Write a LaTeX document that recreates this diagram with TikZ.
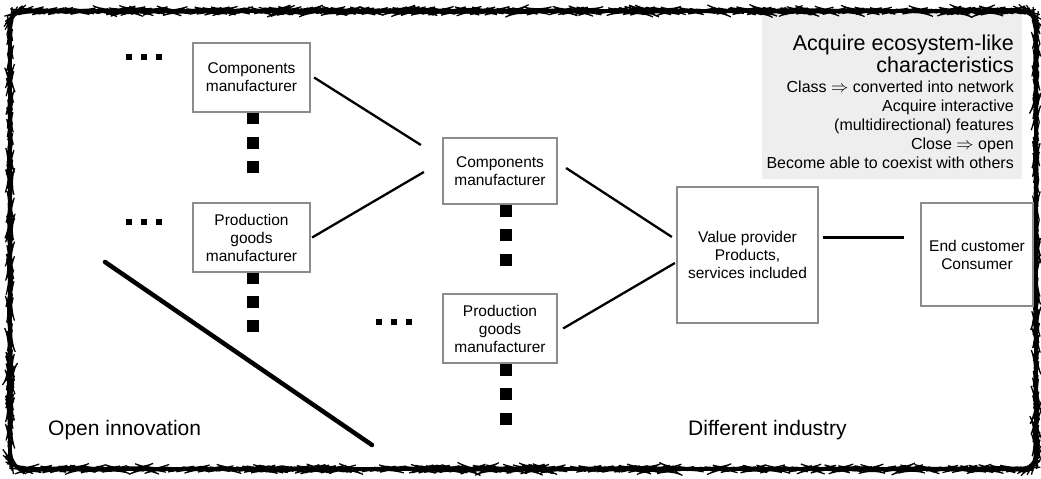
\documentclass[tikz,border=0pt]{standalone}
\usepackage{fontspec}
\setmainfont{Liberation Sans}
\usetikzlibrary{decorations.pathmorphing}
\definecolor{boxgray}{HTML}{8C8C8C}
\definecolor{panelgray}{HTML}{EEEEEE}
\begin{document}
\begin{tikzpicture}[x=1pt,y=-1pt,
 box/.style={draw=boxgray, line width=2.2pt, fill=white, align=center, font=\fontsize{15.5}{18}\selectfont, inner sep=0pt},
 sq/.style={fill=black, minimum size=12pt, inner sep=0pt},
 dotsq/.style={fill=black, minimum size=5.5pt, inner sep=0pt},
 link/.style={line width=2.3pt},
 bigtxt/.style={font=\fontsize{21}{24}\selectfont, inner sep=0pt},
 paneltxt/.style={font=\fontsize{16}{19}\selectfont, inner sep=0pt, anchor=base east},
 paneltitle/.style={font=\fontsize{21.5}{24}\selectfont, inner sep=0pt, anchor=base east},
 rough/.style={line width=1.2pt, decorate, decoration={random steps, segment length=2pt, amplitude=0.45pt}}
]
\useasboundingbox (0,0) rectangle (1041,479);
% panel
\fill[panelgray] (762,10) rectangle (1022,179);
\node[paneltitle] (g1) at (1014,50) {Acquire ecosystem-like};
\node[paneltitle] (g2) at (1014,72) {characteristics};
\node[paneltxt] (g3) at (1014,92) {Class $\Rightarrow$ converted into network};
\node[paneltxt] (g4) at (1014,111) {Acquire interactive};
\node[paneltxt] (g5) at (1014,130) {(multidirectional) features};
\node[paneltxt] (g6) at (1014,149) {Close $\Rightarrow$ open};
\node[paneltxt] (g7) at (1014,168) {Become able to coexist with others};
% frame
\draw[line width=3.6pt, rounded corners=14pt] (10,11) rectangle (1036,469);
\draw[rough, rounded corners=14pt] (10,11) rectangle (1036,469);
% diagonal
\coordinate (d1) at (105,262);
\coordinate (d2) at (372,445);
\draw[line width=4.5pt, line cap=round] (d1) -- (d2);
\draw[rough] (d1) -- (d2);
% vertical squares
\node[sq] (s1) at (253,118) {};
\node[sq] (s2) at (253,143) {};
\node[sq] (s3) at (253,167) {};
\node[sq] (s4) at (253,278) {};
\node[sq] (s5) at (253,302) {};
\node[sq] (s6) at (253,326) {};
\node[sq] (s7) at (506,211) {};
\node[sq] (s8) at (506,235) {};
\node[sq] (s9) at (506,260) {};
\node[sq] (s10) at (506,370) {};
\node[sq] (s11) at (506,394) {};
\node[sq] (s12) at (506,419) {};
% horizontal dots
\node[dotsq] (h1) at (129,57) {};
\node[dotsq] (h2) at (144,57) {};
\node[dotsq] (h3) at (159,57) {};
\node[dotsq] (h4) at (129,222) {};
\node[dotsq] (h5) at (144,222) {};
\node[dotsq] (h6) at (159,222) {};
\node[dotsq] (h7) at (379,322) {};
\node[dotsq] (h8) at (394,322) {};
\node[dotsq] (h9) at (409,322) {};
% boxes
\node[box, minimum width=117pt, minimum height=69pt] (C1) at (251.5,77.5) {Components\\manufacturer};
\node[box, minimum width=117pt, minimum height=69pt] (P1) at (251.5,237.5) {Production\\goods\\manufacturer};
\node[box, minimum width=114pt, minimum height=66pt] (C2) at (500,171) {Components\\manufacturer};
\node[box, minimum width=114pt, minimum height=69pt] (P2) at (500,328.5) {Production\\goods\\manufacturer};
\node[box, minimum width=141pt, minimum height=136pt] (VP) at (747.5,255) {Value provider\\Products,\\services included};
\node[box, minimum width=112pt, minimum height=103pt] (EC) at (977,254.5) {End customer\\Consumer};
% connectors
\draw[link] ([shift={(3,0)}]C1.east) -- ([shift={(-21,-26)}]C2.west);
\draw[link] ([shift={(1,0)}]P1.east) -- ([shift={(-18,1)}]C2.west);
\draw[link] ([shift={(8,-3)}]C2.east) -- ([shift={(-4,-18)}]VP.west);
\draw[link] ([shift={(5,0)}]P2.east) -- ([shift={(-1,8)}]VP.west);
\draw[line width=3pt] ([shift={(4,-18)}]VP.east) -- ([shift={(-16,-17.5)}]EC.west);
% labels
\node[bigtxt, anchor=base west] (oi) at (48,435) {Open innovation};
\node[bigtxt, anchor=base west] (di) at (688,435) {Different industry};
\end{tikzpicture}
\end{document}
